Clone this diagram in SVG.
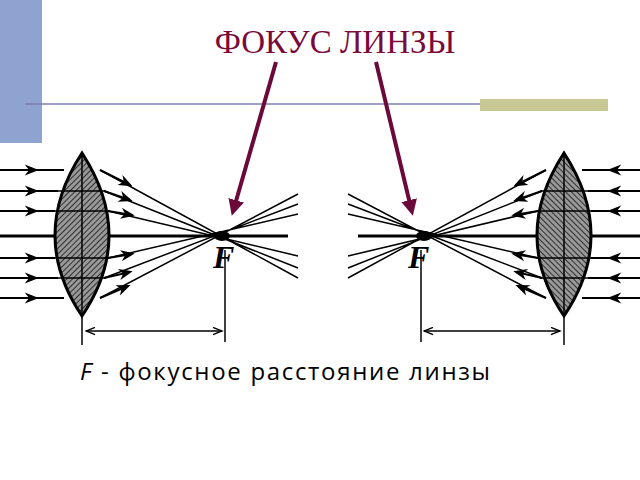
<svg xmlns="http://www.w3.org/2000/svg" width="640" height="480" viewBox="0 0 640 480">
<defs>
<pattern id="hatch" width="4" height="4" patternUnits="userSpaceOnUse" patternTransform="rotate(45)"><rect width="4" height="4" fill="#999"/><line x1="0" y1="0" x2="0" y2="4" stroke="#222" stroke-width="1.8"/></pattern>
<marker id="ra" viewBox="0 0 10 10" refX="8" refY="5" markerWidth="9" markerHeight="7" orient="auto"><path d="M0,1 L10,5 L0,9 L3,5 Z" fill="#000"/></marker>
<marker id="da" viewBox="0 0 10 10" refX="10" refY="5" markerWidth="8" markerHeight="6" orient="auto-start-reverse"><path d="M0,1 L10,5 L0,9" fill="none" stroke="#000" stroke-width="1.5"/></marker>
<marker id="pa" viewBox="0 0 10 10" refX="5" refY="5" markerWidth="4" markerHeight="5" orient="auto"><path d="M0,0 L10,5 L0,10 Z" fill="#6b0a3a"/></marker>
<g id="optics">
<g stroke="#000" stroke-width="2" fill="none">
<line x1="0" y1="236" x2="288" y2="236" stroke-width="3"/>
<line x1="0" y1="170" x2="36" y2="170" marker-end="url(#ra)"/><line x1="36" y1="170" x2="64" y2="170"/>
<line x1="0" y1="191" x2="36" y2="191" marker-end="url(#ra)"/><line x1="36" y1="191" x2="58" y2="191"/>
<line x1="0" y1="211" x2="36" y2="211" marker-end="url(#ra)"/><line x1="36" y1="211" x2="55" y2="211"/>
<line x1="0" y1="258" x2="36" y2="258" marker-end="url(#ra)"/><line x1="36" y1="258" x2="55" y2="258"/>
<line x1="0" y1="278" x2="36" y2="278" marker-end="url(#ra)"/><line x1="36" y1="278" x2="58" y2="278"/>
<line x1="0" y1="298" x2="36" y2="298" marker-end="url(#ra)"/><line x1="36" y1="298" x2="64" y2="298"/>
<line x1="100" y1="170" x2="130" y2="185" marker-end="url(#ra)"/><line x1="104" y1="191" x2="130" y2="200" marker-end="url(#ra)"/><line x1="108" y1="211" x2="132" y2="215" marker-end="url(#ra)"/>
<line x1="108" y1="258" x2="132" y2="254" marker-end="url(#ra)"/><line x1="104" y1="278" x2="130" y2="272" marker-end="url(#ra)"/><line x1="100" y1="298" x2="128" y2="286" marker-end="url(#ra)"/>
<path d="M100,170 L298,278 M104,191 L298,268 M108,211 L298,256 M108,258 L298,214 M104,278 L298,204 M100,298 L298,194" stroke-width="1.5"/>
<line x1="82" y1="300" x2="82" y2="345" stroke-width="1.5"/><line x1="225" y1="250" x2="225" y2="342" stroke-width="1.5"/>
<line x1="86" y1="331" x2="222" y2="331" stroke-width="1.5" marker-start="url(#da)" marker-end="url(#da)"/>
</g>
<path d="M82,153 Q28,236 82,316 Q136,236 82,153 Z" fill="url(#hatch)" stroke="#000" stroke-width="3"/>
<g stroke="#000" stroke-width="1.5"><line x1="82" y1="153" x2="82" y2="316"/><line x1="58" y1="191" x2="106" y2="191"/><line x1="55" y1="211" x2="109" y2="211"/><line x1="55" y1="258" x2="109" y2="258"/><line x1="58" y1="278" x2="106" y2="278"/></g>
<ellipse cx="222" cy="236" rx="8" ry="5" fill="#000"/>
</g>
</defs>
<rect x="0" y="0" width="42" height="143" fill="#8fa3d0"/>
<line x1="25" y1="104" x2="608" y2="104" stroke="#7f7fb0" stroke-width="1.5"/>
<rect x="480" y="99" width="128" height="12" fill="#c8c896"/>
<g id="left-lens"><use href="#optics"/><text x="213" y="268" font-family="Liberation Serif, serif" font-style="italic" font-weight="bold" font-size="32">F</text></g>
<g id="right-lens"><use href="#optics" transform="translate(646,0) scale(-1,1)"/><text x="408" y="268" font-family="Liberation Serif, serif" font-style="italic" font-weight="bold" font-size="32">F</text></g>
<text id="title" x="335" y="53" text-anchor="middle" font-family="Liberation Serif, serif" font-size="33" fill="#7a0a3a">ФОКУС ЛИНЗЫ</text>
<g id="connectors" stroke="#6b0a3a" stroke-width="4">
<line x1="276" y1="62" x2="234" y2="208" marker-end="url(#pa)"/>
<line x1="376" y1="62" x2="411" y2="208" marker-end="url(#pa)"/>
</g>
<text id="caption" x="80" y="380" font-family="Open Sans, sans-serif" font-size="24" textLength="410"><tspan font-style="italic">F</tspan> - фокусное расстояние линзы</text>
</svg>
